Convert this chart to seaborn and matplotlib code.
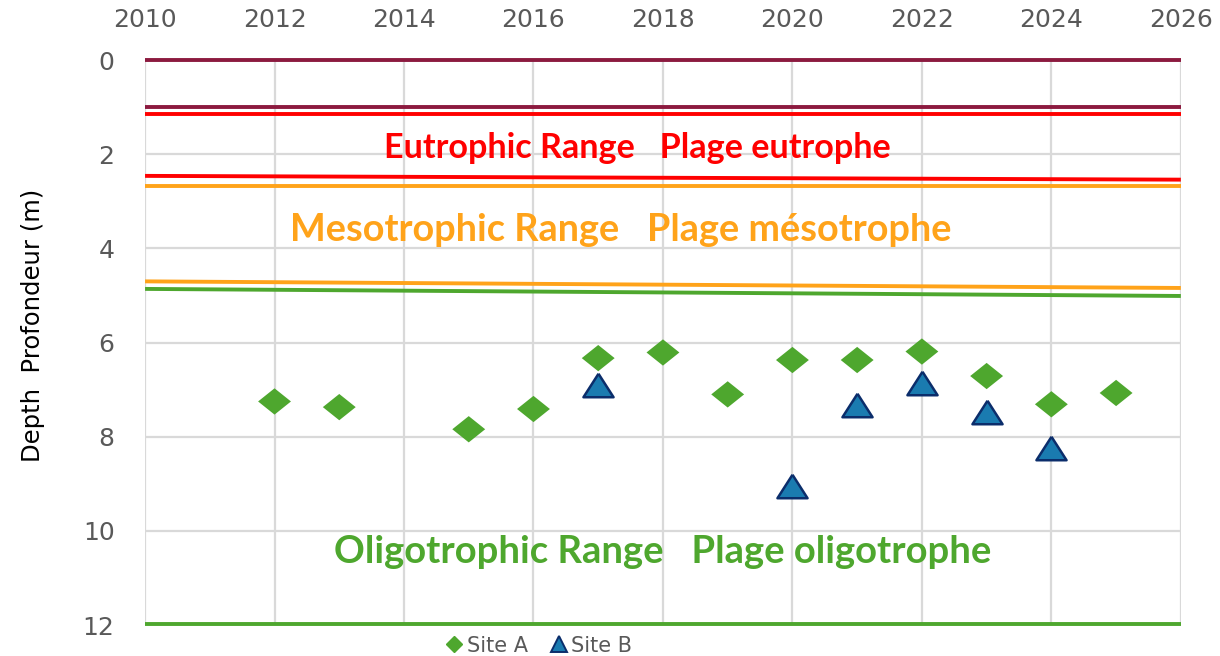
import numpy as np
import pandas as pd
import matplotlib
matplotlib.use("Agg")
import matplotlib.pyplot as plt
import seaborn as sns

# ---- data ----
years_a = [2012, 2013, 2015, 2016, 2017, 2018, 2019, 2020, 2021, 2022, 2023, 2024, 2025]
depth_a = [7.25, 7.37, 7.84, 7.41, 6.33, 6.21, 7.10, 6.37, 6.37, 6.19, 6.71, 7.31, 7.07]
years_b = [2017, 2020, 2021, 2022, 2023, 2024]
depth_b = [6.90, 9.05, 7.32, 6.86, 7.47, 8.23]

# boundary lines: depth at 2010 and at 2026
bound_start = [0.0, 1.0, 1.15, 2.46, 2.67, 4.70, 4.86, 11.97]
bound_end   = [0.0, 1.0, 1.15, 2.54, 2.67, 4.84, 5.01, 11.97]
bound_colors = ["#8c1a3f", "#8c1a3f", "#ff0000", "#ff0000", "#ffa31a", "#ffa31a", "#4ea72e", "#4ea72e"]

range_labels = ["Eutrophic Range   Plage eutrophe",
                "Mesotrophic Range   Plage mésotrophe",
                "Oligotrophic Range   Plage oligotrophe"]
range_label_x = [2017.6, 2017.35, 2018.0]
range_label_y = [1.86, 3.6, 10.45]
range_label_colors = ["#ff0000", "#ffa31a", "#4ea72e"]
range_label_sizes = [24.6, 27.3, 27.5]

x_ticks = list(range(2010, 2027, 2))
y_ticks = [0, 2, 4, 6, 8, 10, 12]

# ---- figure ----
sns.set_theme(style="white")
plt.rcParams['font.family'] = ['DejaVu Sans']

fig = plt.figure(figsize=(12.2, 6.56), dpi=100)
ax = fig.add_axes([0.1189, 0.047, 0.849, 0.8615])

grid_c = "#d9d9d9"
for xt in x_ticks:
    ax.axvline(xt, color=grid_c, lw=1.6, zorder=0)
for yt in y_ticks:
    ax.axhline(yt, color=grid_c, lw=1.6, zorder=0)

for s, e, c in zip(bound_start, bound_end, bound_colors):
    ax.plot([2010, 2026], [s, e], color=c, lw=2.8, solid_capstyle='butt', zorder=2, clip_on=False)

diamond = [(-1, 0), (0, 0.8), (1, 0), (0, -0.8), (-1, 0)]
triangle = [(0, 0.78), (-1, -0.78), (1, -0.78), (0, 0.78)]

df = pd.concat([
    pd.DataFrame({"year": years_a, "depth": depth_a, "site": "Site A"}),
    pd.DataFrame({"year": years_b, "depth": depth_b, "site": "Site B"}),
])
sns.scatterplot(data=df[df.site == "Site A"], x="year", y="depth", ax=ax,
                marker=diamond, s=560, color="#4ea72e", edgecolor="none",
                zorder=3, legend=False)
sns.scatterplot(data=df[df.site == "Site B"], x="year", y="depth", ax=ax,
                marker=triangle, s=470, color="#1a7bb0", edgecolor="#0b2d6b",
                linewidth=1.8, zorder=4, legend=False)

for t, xx, yy, c, fs in zip(range_labels, range_label_x, range_label_y,
                            range_label_colors, range_label_sizes):
    ax.text(xx, yy, t, color=c, fontsize=fs, fontweight='bold', family='Lato',
            ha='center', va='center', zorder=5)

ax.set_xlim(2010, 2026)
ax.set_ylim(12, 0)
ax.set_xticks(x_ticks)
ax.set_yticks(y_ticks)
ax.xaxis.tick_top()
ax.tick_params(axis='both', length=0, labelsize=18, labelcolor="#595959")
ax.tick_params(axis='x', pad=20)
ax.tick_params(axis='y', pad=22)
for sp in ax.spines.values():
    sp.set_visible(False)
ax.set_xlabel("")
ax.set_ylabel("Depth  Profondeur (m)", fontsize=17.5, color="#000000")
ax.yaxis.set_label_coords(-0.097, 0.53)

from matplotlib.lines import Line2D
handles = [Line2D([], [], ls='none', marker='D', color="#4ea72e", markersize=8),
           Line2D([], [], ls='none', marker='^', color="#1a7bb0", markeredgecolor="#0b2d6b",
                  markersize=11, markeredgewidth=1.4)]
fig.legend(handles, ["Site A", "Site B"], loc='center', bbox_to_anchor=(0.441, 0.016),
           ncol=2, frameon=False, fontsize=15, labelcolor="#595959",
           handletextpad=0.1, columnspacing=1.0, handlelength=1.0)

fig.savefig("out.png", dpi=100)
